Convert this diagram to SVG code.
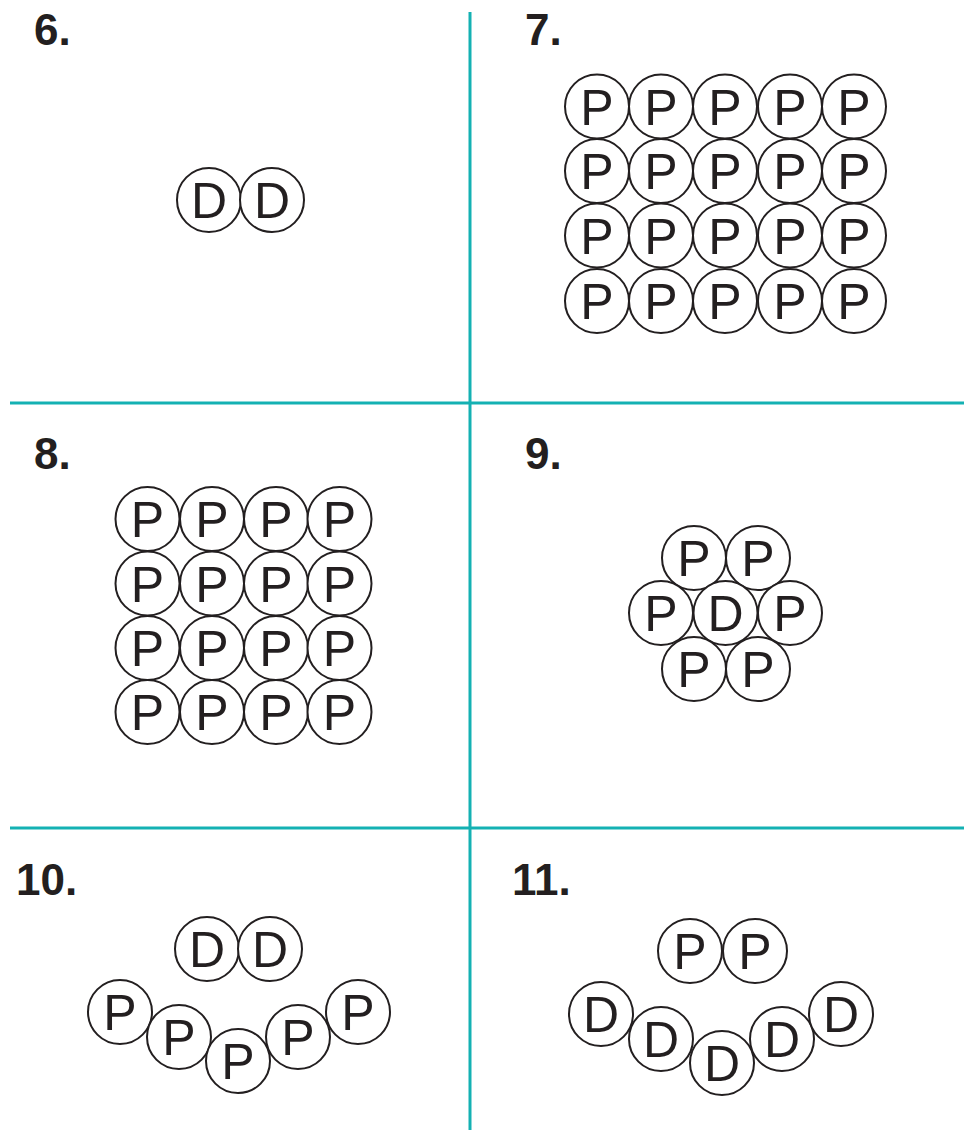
<svg xmlns="http://www.w3.org/2000/svg" width="964" height="1130" viewBox="0 0 964 1130">
<style>
.c{fill:#fff;stroke:#231f20;stroke-width:2}
.t{font-family:"Liberation Sans",Arial,sans-serif;font-size:50px;fill:#231f20;text-anchor:middle}
.lab{font-family:"Liberation Sans",Arial,sans-serif;font-size:44px;font-weight:bold;fill:#231f20}
.div{stroke:#14b1b3;stroke-width:3;fill:none}
</style>
<rect width="964" height="1130" fill="#fff"/>
<g id="dividers" class="connectors">
<line class="div" x1="470" y1="12" x2="470" y2="1130"/>
<line class="div" x1="10" y1="403" x2="964" y2="403"/>
<line class="div" x1="10" y1="828" x2="964" y2="828"/>
</g>
<g id="labels">
<text class="lab" x="34" y="45">6.</text>
<text class="lab" x="525" y="45">7.</text>
<text class="lab" x="34" y="469">8.</text>
<text class="lab" x="525" y="469">9.</text>
<text class="lab" x="16" y="895">10.</text>
<text class="lab" x="512" y="895">11.</text>
</g>
<g id="panel6">
<g id="p6-d1"><circle class="c" cx="209" cy="200" r="32"/><text class="t" x="209" y="218">D</text></g>
<g id="p6-d2"><circle class="c" cx="272" cy="200" r="32"/><text class="t" x="272" y="218">D</text></g>
</g>
<g id="panel7">
<g id="p7-r1c1"><circle class="c" cx="597" cy="106.5" r="32"/><text class="t" x="597" y="124.5">P</text></g>
<g id="p7-r1c2"><circle class="c" cx="661" cy="106.5" r="32"/><text class="t" x="661" y="124.5">P</text></g>
<g id="p7-r1c3"><circle class="c" cx="725" cy="106.5" r="32"/><text class="t" x="725" y="124.5">P</text></g>
<g id="p7-r1c4"><circle class="c" cx="790" cy="106.5" r="32"/><text class="t" x="790" y="124.5">P</text></g>
<g id="p7-r1c5"><circle class="c" cx="854" cy="106.5" r="32"/><text class="t" x="854" y="124.5">P</text></g>
<g id="p7-r2c1"><circle class="c" cx="597" cy="171" r="32"/><text class="t" x="597" y="189">P</text></g>
<g id="p7-r2c2"><circle class="c" cx="661" cy="171" r="32"/><text class="t" x="661" y="189">P</text></g>
<g id="p7-r2c3"><circle class="c" cx="725" cy="171" r="32"/><text class="t" x="725" y="189">P</text></g>
<g id="p7-r2c4"><circle class="c" cx="790" cy="171" r="32"/><text class="t" x="790" y="189">P</text></g>
<g id="p7-r2c5"><circle class="c" cx="854" cy="171" r="32"/><text class="t" x="854" y="189">P</text></g>
<g id="p7-r3c1"><circle class="c" cx="597" cy="235.5" r="32"/><text class="t" x="597" y="253.5">P</text></g>
<g id="p7-r3c2"><circle class="c" cx="661" cy="235.5" r="32"/><text class="t" x="661" y="253.5">P</text></g>
<g id="p7-r3c3"><circle class="c" cx="725" cy="235.5" r="32"/><text class="t" x="725" y="253.5">P</text></g>
<g id="p7-r3c4"><circle class="c" cx="790" cy="235.5" r="32"/><text class="t" x="790" y="253.5">P</text></g>
<g id="p7-r3c5"><circle class="c" cx="854" cy="235.5" r="32"/><text class="t" x="854" y="253.5">P</text></g>
<g id="p7-r4c1"><circle class="c" cx="597" cy="301" r="32"/><text class="t" x="597" y="319">P</text></g>
<g id="p7-r4c2"><circle class="c" cx="661" cy="301" r="32"/><text class="t" x="661" y="319">P</text></g>
<g id="p7-r4c3"><circle class="c" cx="725" cy="301" r="32"/><text class="t" x="725" y="319">P</text></g>
<g id="p7-r4c4"><circle class="c" cx="790" cy="301" r="32"/><text class="t" x="790" y="319">P</text></g>
<g id="p7-r4c5"><circle class="c" cx="854" cy="301" r="32"/><text class="t" x="854" y="319">P</text></g>
</g>
<g id="panel8">
<g id="p8-r1c1"><circle class="c" cx="147.5" cy="519" r="32"/><text class="t" x="147.5" y="537">P</text></g>
<g id="p8-r1c2"><circle class="c" cx="212" cy="519" r="32"/><text class="t" x="212" y="537">P</text></g>
<g id="p8-r1c3"><circle class="c" cx="276" cy="519" r="32"/><text class="t" x="276" y="537">P</text></g>
<g id="p8-r1c4"><circle class="c" cx="339.5" cy="519" r="32"/><text class="t" x="339.5" y="537">P</text></g>
<g id="p8-r2c1"><circle class="c" cx="147.5" cy="583.5" r="32"/><text class="t" x="147.5" y="601.5">P</text></g>
<g id="p8-r2c2"><circle class="c" cx="212" cy="583.5" r="32"/><text class="t" x="212" y="601.5">P</text></g>
<g id="p8-r2c3"><circle class="c" cx="276" cy="583.5" r="32"/><text class="t" x="276" y="601.5">P</text></g>
<g id="p8-r2c4"><circle class="c" cx="339.5" cy="583.5" r="32"/><text class="t" x="339.5" y="601.5">P</text></g>
<g id="p8-r3c1"><circle class="c" cx="147.5" cy="648" r="32"/><text class="t" x="147.5" y="666">P</text></g>
<g id="p8-r3c2"><circle class="c" cx="212" cy="648" r="32"/><text class="t" x="212" y="666">P</text></g>
<g id="p8-r3c3"><circle class="c" cx="276" cy="648" r="32"/><text class="t" x="276" y="666">P</text></g>
<g id="p8-r3c4"><circle class="c" cx="339.5" cy="648" r="32"/><text class="t" x="339.5" y="666">P</text></g>
<g id="p8-r4c1"><circle class="c" cx="147.5" cy="712" r="32"/><text class="t" x="147.5" y="730">P</text></g>
<g id="p8-r4c2"><circle class="c" cx="212" cy="712" r="32"/><text class="t" x="212" y="730">P</text></g>
<g id="p8-r4c3"><circle class="c" cx="276" cy="712" r="32"/><text class="t" x="276" y="730">P</text></g>
<g id="p8-r4c4"><circle class="c" cx="339.5" cy="712" r="32"/><text class="t" x="339.5" y="730">P</text></g>
</g>
<g id="panel9">
<g id="p9-t1"><circle class="c" cx="694" cy="558" r="32"/><text class="t" x="694" y="576">P</text></g>
<g id="p9-t2"><circle class="c" cx="758" cy="558" r="32"/><text class="t" x="758" y="576">P</text></g>
<g id="p9-m1"><circle class="c" cx="661" cy="613" r="32"/><text class="t" x="661" y="631">P</text></g>
<g id="p9-m2"><circle class="c" cx="725.5" cy="613" r="32"/><text class="t" x="725.5" y="631">D</text></g>
<g id="p9-m3"><circle class="c" cx="790" cy="613" r="32"/><text class="t" x="790" y="631">P</text></g>
<g id="p9-b1"><circle class="c" cx="694" cy="669" r="32"/><text class="t" x="694" y="687">P</text></g>
<g id="p9-b2"><circle class="c" cx="758" cy="669" r="32"/><text class="t" x="758" y="687">P</text></g>
</g>
<g id="panel10">
<g id="p10-d1"><circle class="c" cx="207" cy="949" r="32"/><text class="t" x="207" y="967">D</text></g>
<g id="p10-d2"><circle class="c" cx="270" cy="949" r="32"/><text class="t" x="270" y="967">D</text></g>
<g id="p10-p1"><circle class="c" cx="120" cy="1012" r="32"/><text class="t" x="120" y="1030">P</text></g>
<g id="p10-p2"><circle class="c" cx="179" cy="1037" r="32"/><text class="t" x="179" y="1055">P</text></g>
<g id="p10-p3"><circle class="c" cx="238" cy="1061" r="32"/><text class="t" x="238" y="1079">P</text></g>
<g id="p10-p4"><circle class="c" cx="298" cy="1037" r="32"/><text class="t" x="298" y="1055">P</text></g>
<g id="p10-p5"><circle class="c" cx="358" cy="1012" r="32"/><text class="t" x="358" y="1030">P</text></g>
</g>
<g id="panel11">
<g id="p11-p1"><circle class="c" cx="690" cy="951" r="32"/><text class="t" x="690" y="969">P</text></g>
<g id="p11-p2"><circle class="c" cx="755" cy="951" r="32"/><text class="t" x="755" y="969">P</text></g>
<g id="p11-d1"><circle class="c" cx="601" cy="1014" r="32"/><text class="t" x="601" y="1032">D</text></g>
<g id="p11-d2"><circle class="c" cx="661" cy="1039" r="32"/><text class="t" x="661" y="1057">D</text></g>
<g id="p11-d3"><circle class="c" cx="722" cy="1063" r="32"/><text class="t" x="722" y="1081">D</text></g>
<g id="p11-d4"><circle class="c" cx="782" cy="1039" r="32"/><text class="t" x="782" y="1057">D</text></g>
<g id="p11-d5"><circle class="c" cx="841" cy="1014" r="32"/><text class="t" x="841" y="1032">D</text></g>
</g>
</svg>
